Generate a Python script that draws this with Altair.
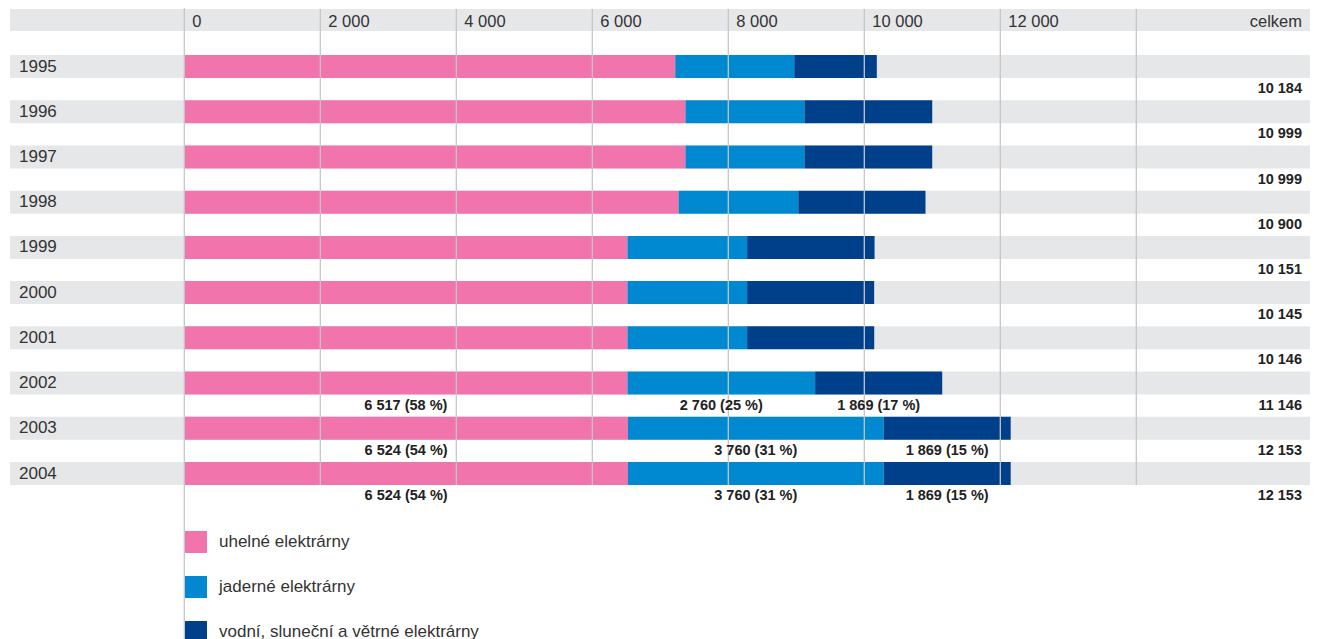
import altair as alt
import pandas as pd

years = ["1995", "1996", "1997", "1998", "1999", "2000", "2001", "2002", "2003", "2004"]
uhelne = [7220, 7370, 7370, 7270, 6517, 6517, 6517, 6517, 6524, 6524]
jaderne = [1750, 1750, 1750, 1760, 1760, 1760, 1760, 2760, 3760, 3760]
vodni = [1214, 1879, 1879, 1870, 1874, 1868, 1869, 1869, 1869, 1869]
totals = [10184, 10999, 10999, 10900, 10151, 10145, 10146, 11146, 12153, 12153]

label_years = ["2002", "2003", "2004"]
uhelne_pct = [58, 54, 54]
jaderne_pct = [25, 31, 31]
vodni_pct = [17, 15, 15]

series = ["uhelné elektrárny", "jaderné elektrárny", "vodní, sluneční a větrné elektrárny"]
colors = ["#F174AC", "#0089D1", "#003F8A"]

ticks = [0, 2000, 4000, 6000, 8000, 10000, 12000]
grid_extra = [14000]


def fmt(v):
    return f"{v:,}".replace(",", " ")


rows = []
for i, y in enumerate(years):
    start = 0
    for s, vals in zip(series, [uhelne, jaderne, vodni]):
        v = vals[i]
        rows.append({"year": y, "series": s, "start": start, "end": start + v,
                     "mid": start + v / 2, "value": v})
        start += v
bars = pd.DataFrame(rows)

lab_rows = []
for j, y in enumerate(label_years):
    i = years.index(y)
    start = 0
    for vals, pcts in zip([uhelne, jaderne, vodni], [uhelne_pct, jaderne_pct, vodni_pct]):
        v = vals[i]
        lab_rows.append({"year": y, "mid": start + v / 2,
                         "text": f"{fmt(v)} ({pcts[j]} %)"})
        start += v
labels = pd.DataFrame(lab_rows)

tot_df = pd.DataFrame({"year": years, "text": [fmt(t) for t in totals]})
year_df = pd.DataFrame({"year": years})
tick_df = pd.DataFrame({"v": ticks, "text": [fmt(t) for t in ticks]})
grid_df = pd.DataFrame({"v": ticks[1:] + grid_extra})
zero_df = pd.DataFrame({"v": [0]})

PL = 176          # left padding: view origin sits on the zero line
W, H = 1126, 631
FONT = "Liberation Sans"
GRID = "#C6C6C6"
BAND_L, BAND_R = -174, 1126
RIGHT_TXT = 1118

xs = alt.Scale(domain=[0, 12000], range=[0.3, 816.3])
ys = alt.Scale(domain=years, range=[47, 477], paddingInner=0.4914, paddingOuter=0)

band = alt.Chart(year_df).mark_rect(color="#E6E7E8").encode(
    y=alt.Y("year:N", scale=ys, axis=None),
    x=alt.value(BAND_L), x2=alt.value(BAND_R),
)
header = alt.Chart(zero_df).mark_rect(color="#E6E7E8").encode(
    x=alt.value(BAND_L), x2=alt.value(BAND_R), y=alt.value(1), y2=alt.value(23),
)

bar = alt.Chart(bars).mark_bar().encode(
    y=alt.Y("year:N", scale=ys, axis=None),
    x=alt.X("start:Q", scale=xs, axis=None),
    x2="end:Q",
    color=alt.Color("series:N", scale=alt.Scale(domain=series, range=colors),
                    legend=alt.Legend(title=None, orient="none", legendX=1, legendY=523,
                                      symbolType="square", symbolSize=484,
                                      symbolStrokeWidth=0, labelFontSize=17,
                                      labelFont=FONT, labelColor="#333333",
                                      labelOffset=12, rowPadding=23, padding=0,
                                      labelLimit=600)),
)

grid = alt.Chart(grid_df).mark_rule(color=GRID, strokeWidth=1.3).encode(
    x=alt.X("v:Q", scale=xs, axis=None), y=alt.value(1), y2=alt.value(477),
)
zero = alt.Chart(zero_df).mark_rule(color=GRID, strokeWidth=1.3).encode(
    x=alt.X("v:Q", scale=xs, axis=None), y=alt.value(0), y2=alt.value(H),
)

tick_text = alt.Chart(tick_df).mark_text(align="left", baseline="middle", dx=8,
                                          fontSize=16.5, font=FONT, color="#333333").encode(
    x=alt.X("v:Q", scale=xs, axis=None), y=alt.value(13.5), text="text:N",
)
celkem = alt.Chart(zero_df).mark_text(align="right", baseline="middle", fontSize=16.5,
                                       font=FONT, color="#333333").encode(
    x=alt.value(RIGHT_TXT), y=alt.value(13.5), text=alt.value("celkem"),
)

year_text = alt.Chart(year_df).mark_text(align="left", baseline="middle", fontSize=17,
                                          font=FONT, color="#333333").encode(
    y=alt.Y("year:N", scale=ys, axis=None), x=alt.value(-165), text="year:N",
)

tot_text = alt.Chart(tot_df).mark_text(align="right", baseline="middle", dy=22.6,
                                        fontSize=14.5, fontWeight="bold", font=FONT,
                                        color="#222222").encode(
    y=alt.Y("year:N", scale=ys, axis=None), x=alt.value(RIGHT_TXT), text="text:N",
)

lab_text = alt.Chart(labels).mark_text(align="center", baseline="middle", dy=22.6,
                                        fontSize=14.5, fontWeight="bold", font=FONT,
                                        color="#222222").encode(
    y=alt.Y("year:N", scale=ys, axis=None),
    x=alt.X("mid:Q", scale=xs, axis=None), text="text:N",
)

chart = alt.layer(band, header, bar, grid, zero, tick_text, celkem, year_text,
                  tot_text, lab_text).properties(
    width=W, height=H, autosize=alt.AutoSizeParams(type="none"),
    padding={"left": PL, "top": 0, "right": 3, "bottom": 0},
    view=alt.ViewBackground(strokeWidth=0, strokeOpacity=0, stroke="white"),
).configure_view(strokeWidth=0, strokeOpacity=0, stroke="white").configure(background="white")

chart.save("out.html", embed_options={"renderer": "svg", "actions": False})
